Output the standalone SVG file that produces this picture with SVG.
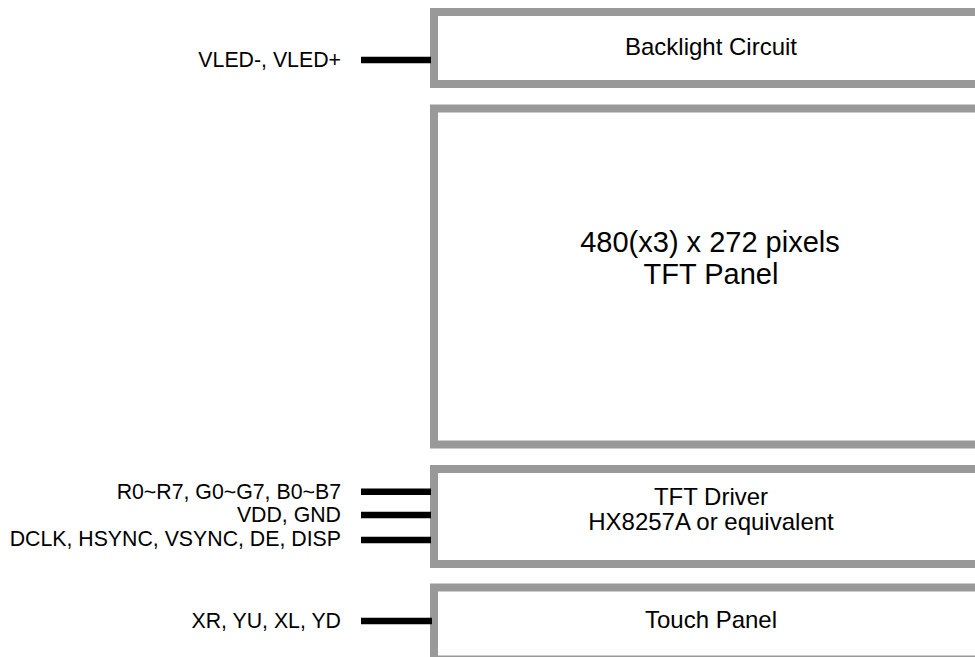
<svg xmlns="http://www.w3.org/2000/svg" width="975" height="657" viewBox="0 0 975 657">
<style>
.box{fill:#fff;stroke:#999;stroke-width:8}
.wire{stroke:#000;stroke-width:6.5;fill:none}
.lbl{font-family:"Liberation Sans",Arial,sans-serif;font-size:21.3px;fill:#000;text-anchor:end}
.t{font-family:"Liberation Sans",Arial,sans-serif;font-size:24px;fill:#000;text-anchor:middle}
.big{font-family:"Liberation Sans",Arial,sans-serif;font-size:29px;fill:#000;text-anchor:middle}
</style>
<rect width="975" height="657" fill="#fff"/>
<g id="backlight">
<rect class="box" x="434" y="12" width="554" height="72"/>
<text class="t" x="711" y="55">Backlight Circuit</text>
</g>
<g id="panel">
<rect class="box" x="434" y="108.5" width="554" height="336"/>
<text class="big" x="710" y="251.5">480(x3) x 272 pixels</text>
<text class="big" x="711" y="283.5">TFT Panel</text>
</g>
<g id="driver">
<rect class="box" x="434" y="469" width="554" height="95"/>
<text class="t" x="711" y="505">TFT Driver</text>
<text class="t" x="711" y="530">HX8257A or equivalent</text>
</g>
<g id="touch">
<rect class="box" x="434" y="587.5" width="554" height="72"/>
<text class="t" x="711" y="628">Touch Panel</text>
</g>
<g id="connectors">
<line class="wire" x1="361" y1="60" x2="431" y2="60"/>
<line class="wire" x1="361" y1="491.7" x2="431" y2="491.7"/>
<line class="wire" x1="361" y1="515" x2="431" y2="515"/>
<line class="wire" x1="361" y1="540" x2="431" y2="540"/>
<line class="wire" x1="361" y1="621" x2="432" y2="621"/>
</g>
<g id="labels">
<text class="lbl" x="341" y="67">VLED-, VLED+</text>
<text class="lbl" x="341" y="498.5">R0~R7, G0~G7, B0~B7</text>
<text class="lbl" x="341" y="522">VDD, GND</text>
<text class="lbl" x="341" y="545.5">DCLK, HSYNC, VSYNC, DE, DISP</text>
<text class="lbl" x="341" y="628">XR, YU, XL, YD</text>
</g>
</svg>
